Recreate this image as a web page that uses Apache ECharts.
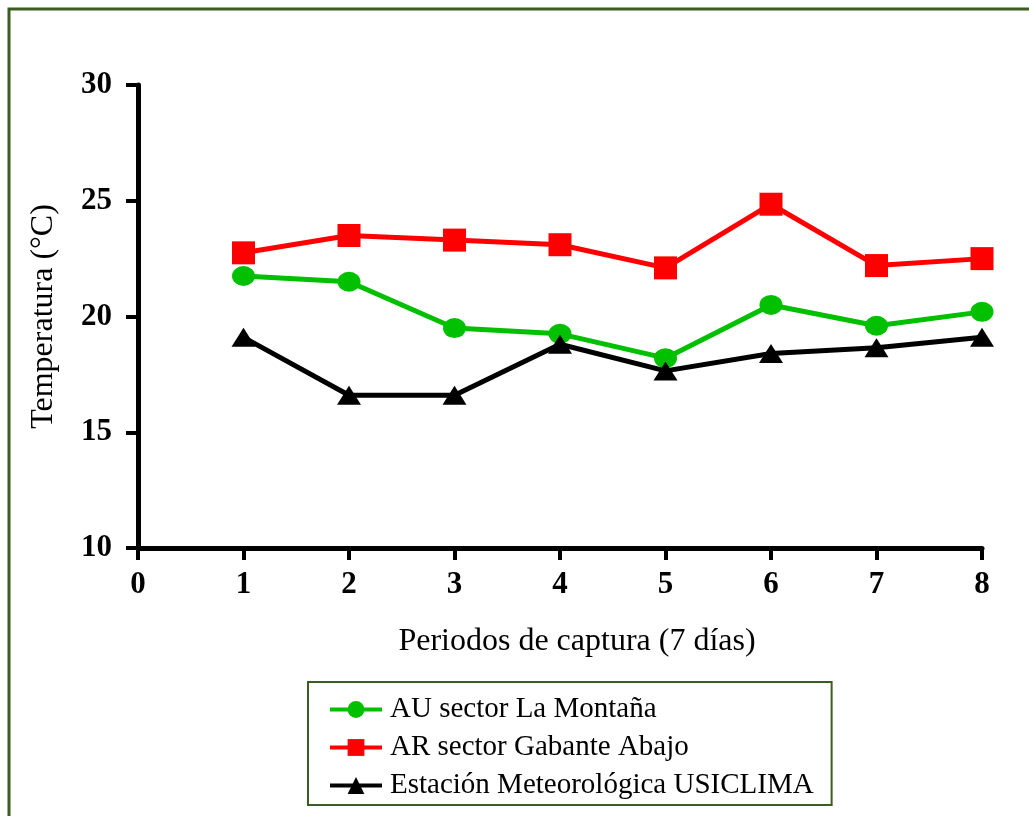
<!DOCTYPE html>
<html><head><meta charset="utf-8">
<script src="https://cdn.jsdelivr.net/npm/echarts@6/dist/echarts.min.js"></script>
<style>html,body{margin:0;padding:0;background:#fff}#c{width:1029px;height:816px}</style>
</head><body><div id="c"></div>
<script>
const periods = [1, 2, 3, 4, 5, 6, 7, 8];
const seriesNames = ['AU sector La Montaña', 'AR sector Gabante Abajo', 'Estación Meteorológica USICLIMA'];
const montana = [21.75, 21.5, 19.5, 19.25, 18.2, 20.5, 19.6, 20.2];
const gabante = [22.75, 23.5, 23.3, 23.1, 22.1, 24.85, 22.2, 22.5];
const usiclima = [19.1, 16.6, 16.6, 18.8, 17.65, 18.4, 18.65, 19.1];
const xTicks = [0, 1, 2, 3, 4, 5, 6, 7, 8];
const yTicks = [10, 15, 20, 25, 30];

const font = 'Liberation Serif';
const chart = echarts.init(document.getElementById('c'));
const pair = arr => periods.map((p, i) => [p, arr[i]]);
chart.setOption({
  animation: false,
  backgroundColor: '#fff',
  graphic: [{
    type: 'rect', shape: { x: 9, y: 9, width: 1040, height: 830 },
    style: { fill: 'none', stroke: '#3a5e20', lineWidth: 3 }, z: 100
  }],
  grid: { left: 138, right: 47, top: 85, bottom: 268 },
  xAxis: {
    type: 'value', min: xTicks[0], max: xTicks[xTicks.length - 1], interval: 1,
    name: 'Periodos de captura (7 días)', nameLocation: 'middle', nameGap: 78,
    nameTextStyle: { fontFamily: font, fontSize: 32, color: '#000', padding: [0, 0, 0, 34] },
    axisLine: { lineStyle: { color: '#000', width: 5 } },
    axisTick: { show: true, inside: false, length: 12, lineStyle: { color: '#000', width: 4 } },
    axisLabel: { fontFamily: font, fontSize: 31, fontWeight: 'bold', color: '#000', margin: 21 },
    splitLine: { show: false }
  },
  yAxis: {
    type: 'value', min: yTicks[0], max: yTicks[yTicks.length - 1], interval: 5,
    name: 'Temperatura (°C)', nameLocation: 'middle', nameGap: 78, nameRotate: 90,
    nameTextStyle: { fontFamily: font, fontSize: 32, color: '#000' },
    axisLine: { show: true, lineStyle: { color: '#000', width: 5 } },
    axisTick: { show: true, inside: false, length: 12, lineStyle: { color: '#000', width: 4 } },
    axisLabel: { fontFamily: font, fontSize: 31, fontWeight: 'bold', color: '#000', margin: 26 },
    splitLine: { show: false }
  },
  legend: {
    orient: 'vertical', left: 308, top: 682,
    padding: [13, 18, 5, 20], itemGap: 9,
    itemWidth: 52, itemHeight: 21,
    borderColor: '#3a5e20', borderWidth: 2,
    lineStyle: { width: 4 },
    textStyle: { fontFamily: font, fontSize: 29, lineHeight: 29, color: '#000', padding: [0, 0, 0, 3] },
    data: seriesNames
  },
  series: [
    { name: seriesNames[0], type: 'line', data: pair(montana), symbol: 'circle', symbolSize: [23, 20],
      lineStyle: { color: '#00c000', width: 5 }, itemStyle: { color: '#00c000' } },
    { name: seriesNames[1], type: 'line', data: pair(gabante), symbol: 'rect', symbolSize: 23,
      lineStyle: { color: '#ff0000', width: 5 }, itemStyle: { color: '#ff0000' } },
    { name: seriesNames[2], type: 'line', data: pair(usiclima), symbol: 'triangle', symbolSize: [24, 19],
      lineStyle: { color: '#000', width: 5 }, itemStyle: { color: '#000' } }
  ]
});
</script></body></html>
